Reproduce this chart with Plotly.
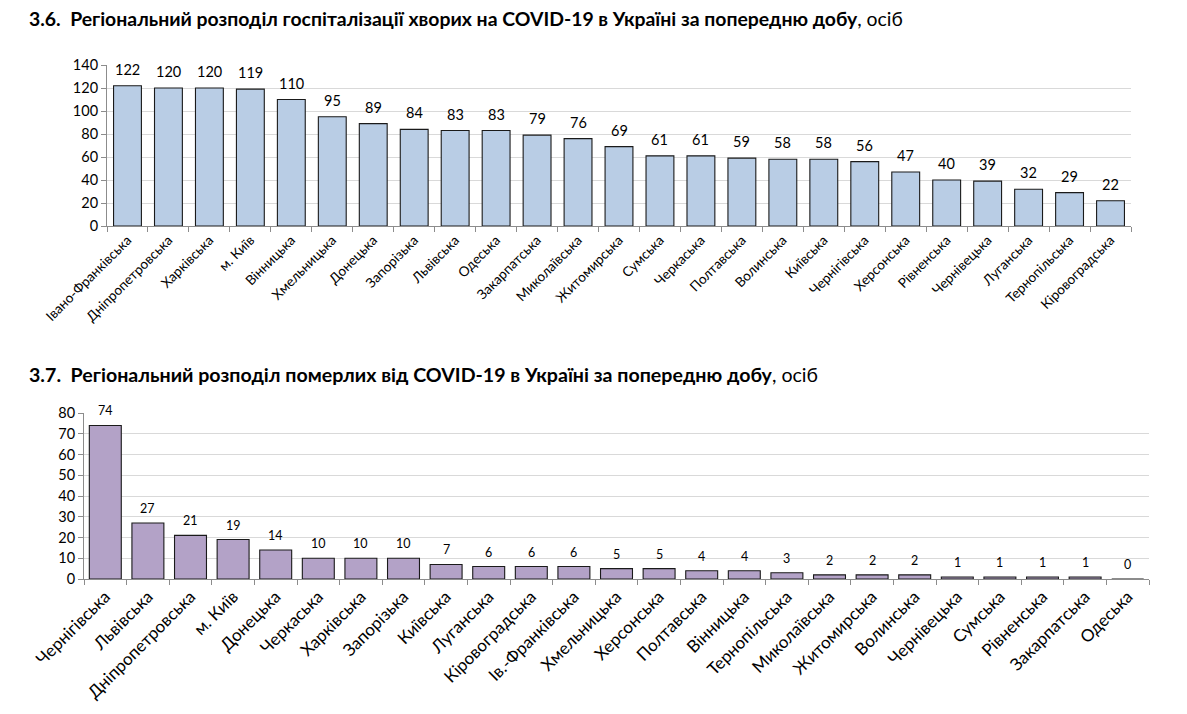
import plotly.graph_objects as go

hosp_regions = ["Івано-Франківська", "Дніпропетровська", "Харківська", "м. Київ", "Вінницька",
                "Хмельницька", "Донецька", "Запорізька", "Львівська", "Одеська", "Закарпатська",
                "Миколаївська", "Житомирська", "Сумська", "Черкаська", "Полтавська", "Волинська",
                "Київська", "Чернігівська", "Херсонська", "Рівненська", "Чернівецька", "Луганська",
                "Тернопільська", "Кіровоградська"]
hosp_values = [122, 120, 120, 119, 110, 95, 89, 84, 83, 83, 79, 76, 69, 61, 61, 59, 58, 58, 56,
               47, 40, 39, 32, 29, 22]

death_regions = ["Чернігівська", "Львівська", "Дніпропетровська", "м. Київ", "Донецька", "Черкаська",
                 "Харківська", "Запорізька", "Київська", "Луганська", "Кіровоградська",
                 "Ів.-Франківська", "Хмельницька", "Херсонська", "Полтавська", "Вінницька",
                 "Тернопільська", "Миколаївська", "Житомирська", "Волинська", "Чернівецька",
                 "Сумська", "Рівненська", "Закарпатська", "Одеська"]
death_values = [74, 27, 21, 19, 14, 10, 10, 10, 7, 6, 6, 6, 5, 5, 4, 4, 3, 2, 2, 2, 1, 1, 1, 1, 0]

hosp_ticks = [0, 20, 40, 60, 80, 100, 120, 140]
death_ticks = [0, 10, 20, 30, 40, 50, 60, 70, 80]

W, H = 1187, 714
FONT = "Lato"

fig = go.Figure()
fig.add_trace(go.Bar(x=hosp_regions, y=hosp_values, xaxis="x", yaxis="y",
                     marker=dict(color="#B9CDE5", line=dict(color="#1a1a1a", width=1.1)),
                     width=0.68, showlegend=False, hoverinfo="x+y"))
fig.add_trace(go.Bar(x=death_regions, y=death_values, xaxis="x2", yaxis="y2",
                     marker=dict(color="#B3A2C7", line=dict(color="#1a1a1a", width=1.1)),
                     width=0.75, showlegend=False, hoverinfo="x+y"))

def px_x(p):
    return p / W

def px_y(p):
    return 1 - p / H

axis_common = dict(showline=True, linecolor="#8c8c8c", linewidth=1, ticks="outside",
                   tickcolor="#8c8c8c", ticklen=5, fixedrange=True, automargin=False)

annotations = [
    dict(text="<b>3.6.  Регіональний розподіл госпіталізації хворих на COVID-19 в Україні за попередню добу</b>, осіб",
         x=px_x(27), y=px_y(18), xref="paper", yref="paper", xanchor="left", yanchor="middle",
         showarrow=False, font=dict(size=19.4, family=FONT, color="#000")),
    dict(text="<b>3.7.  Регіональний розподіл померлих від COVID-19 в Україні за попередню добу</b>, осіб",
         x=px_x(27), y=px_y(374), xref="paper", yref="paper", xanchor="left", yanchor="middle",
         showarrow=False, font=dict(size=19.6, family=FONT, color="#000")),
]
for c, v in zip(hosp_regions, hosp_values):
    annotations.append(dict(x=c, y=v, xref="x", yref="y", text=str(v), showarrow=False,
                            yanchor="bottom", yshift=6, font=dict(size=14.5, family=FONT, color="#000")))
for c, v in zip(death_regions, death_values):
    annotations.append(dict(x=c, y=v, xref="x2", yref="y2", text=str(v), showarrow=False,
                            yanchor="bottom", yshift=5, font=dict(size=12.5, family=FONT, color="#000")))

fig.update_layout(
    width=W, height=H, margin=dict(l=0, r=0, t=0, b=0, autoexpand=False),
    paper_bgcolor="white", plot_bgcolor="white",
    font=dict(family=FONT, color="#000"),
    xaxis=dict(domain=[px_x(107), px_x(1131)], anchor="y", tickangle=-45, tickson="boundaries",
               tickfont=dict(size=13.6, family=FONT), showgrid=False, **axis_common),
    yaxis=dict(domain=[px_y(226), px_y(65)], anchor="x", range=[0, 140], tickvals=hosp_ticks,
               showgrid=True, gridcolor="#d9d9d9", tickfont=dict(size=14.5, family=FONT),
               zeroline=False, **axis_common),
    xaxis2=dict(domain=[px_x(84), px_x(1149)], anchor="y2", tickangle=-45, tickson="boundaries",
                tickfont=dict(size=17, family=FONT), showgrid=False, **axis_common),
    yaxis2=dict(domain=[px_y(579), px_y(413)], anchor="x2", range=[0, 80], tickvals=death_ticks,
                showgrid=True, gridcolor="#d9d9d9", tickfont=dict(size=14.5, family=FONT),
                zeroline=False, **axis_common),
    annotations=annotations,
)

fig.write_html("out.html")
